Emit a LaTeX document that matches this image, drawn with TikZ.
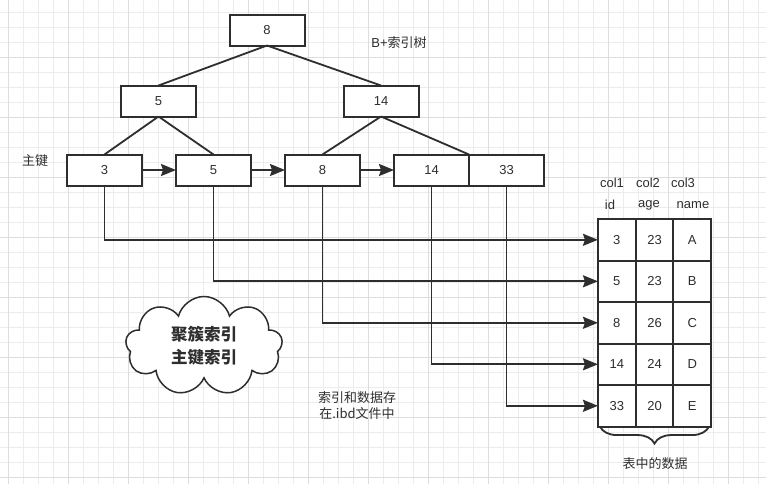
\documentclass[tikz,border=0pt]{standalone}
\usepackage{fontspec}
\setmainfont{Liberation Sans}
\newfontfamily\cjk{Noto Sans CJK SC}
\usetikzlibrary{shapes.symbols, arrows.meta, positioning, decorations.pathreplacing}
\definecolor{inkgray}{HTML}{2E2E2E}
\definecolor{gridminor}{HTML}{ECECEC}
\definecolor{gridmajor}{HTML}{DDDDDD}
\tikzset{
    keybox/.style={rectangle, draw=inkgray, fill=white, line width=2pt, minimum width=75pt, minimum height=31pt, inner sep=0pt, outer sep=0pt, text=inkgray, font=\fontsize{13}{15}\selectfont},
    cell/.style={rectangle, draw=inkgray, fill=white, line width=2pt, minimum width=37.7pt, minimum height=41.5pt, inner sep=0pt, outer sep=0pt, text=inkgray, font=\fontsize{13}{15}\selectfont},
    plaintext/.style={inner sep=1pt, text=inkgray, font=\fontsize{13}{16}\selectfont, align=center},
    bubble/.style={cloud, cloud puffs=9, aspect=1.6, draw=inkgray, fill=white, line width=1.5pt, minimum width=157pt, minimum height=99pt, text=inkgray, font=\fontsize{16.5}{23}\selectfont\cjk\bfseries, align=center},
    arrow/.style={-{Stealth[length=15pt, width=12pt, inset=2pt]}, draw=inkgray, line width=1.8pt},
    link/.style={draw=inkgray, line width=1.8pt},
}

\begin{document}
\begin{tikzpicture}[x=1pt, y=-1pt]
        % Canvas and grid
        \useasboundingbox (0,0) rectangle (766,483);
        \fill[white] (0,0) rectangle (766,483);
        \begin{scope}
            \clip (0,0) rectangle (766,483);
            \draw[gridminor, line width=0.9pt, step=15pt, shift={(8.3,12.3)}] (-30,500) grid (780,-30);
            \draw[gridmajor, line width=0.9pt, step=60pt, shift={(8.3,-2.7)}] (-60,540) grid (800,-60);
        \end{scope}

        % Tree nodes
        \node[keybox] (root) at (267,30) {8};
        \node[keybox] (inner5) at (158.5,101) {5};
        \node[keybox] (inner14) at (381,101) {14};

        \node[keybox] (leaf3) at (104.5,170) {3};
        \node[keybox, right=34pt of leaf3] (leaf5) {5};
        \node[keybox, right=34pt of leaf5] (leaf8) {8};
        \node[keybox, right=34pt of leaf8] (leaf14) {14};
        \node[keybox, right=0pt of leaf14] (leaf33) {33};

        \node[plaintext] (treeName) at (399,43) {B+{\cjk 索引树}};
        \node[plaintext] (pkName) at (35,161) {\cjk 主键};

        % Table
        \node[plaintext] (col1) at (612,183) {col1};
        \node[plaintext] (col2) at (648,183) {col2};
        \node[plaintext] (col3) at (683,183) {col3};
        \node[plaintext] (idHead) at (610,205) {id};
        \node[plaintext] (ageHead) at (649,205) {age};
        \node[plaintext] (nameHead) at (693,205) {name};

        \node[cell] (idA) at (616.8,239.8) {3};
        \node[cell, right=0pt of idA] (ageA) {23};
        \node[cell, right=0pt of ageA] (nameA) {A};
        \node[cell, below=0pt of idA] (idB) {5};
        \node[cell, right=0pt of idB] (ageB) {23};
        \node[cell, right=0pt of ageB] (nameB) {B};
        \node[cell, below=0pt of idB] (idC) {8};
        \node[cell, right=0pt of idC] (ageC) {26};
        \node[cell, right=0pt of ageC] (nameC) {C};
        \node[cell, below=0pt of idC] (idD) {14};
        \node[cell, right=0pt of idD] (ageD) {24};
        \node[cell, right=0pt of ageD] (nameD) {D};
        \node[cell, below=0pt of idD] (idE) {33};
        \node[cell, right=0pt of idE] (ageE) {20};
        \node[cell, right=0pt of ageE] (nameE) {E};

        \node[plaintext] (tableName) at (655,464) {\cjk 表中的数据};

        % Notes
        \node[bubble] (clusterNote) at (204,346) {聚簇索引\\主键索引};
        \node[plaintext] (fileNote) at (357,406) {\cjk 索引和数据存\\\cjk 在.ibd文件中};

        % Connections
        \draw[link] (root.south) -- (inner5.north);
        \draw[link] (root.south) -- (inner14.north);
        \draw[link] (inner5.south) -- (leaf3.north);
        \draw[link] (inner5.south) -- (leaf5.north);
        \draw[link] (inner14.south) -- (leaf8.north);
        \draw[link] (inner14.south) -- (leaf14.north east);

        \draw[arrow] (leaf3) -- (leaf5);
        \draw[arrow] (leaf5) -- (leaf8);
        \draw[arrow] (leaf8) -- (leaf14);

        \draw[arrow] (leaf3) |- (idA);
        \draw[arrow] (leaf5) |- (idB);
        \draw[arrow] (leaf8) |- (idC);
        \draw[arrow] (leaf14) |- (idD);
        \draw[arrow] (leaf33) |- (idE);

        \draw[link, decorate, decoration={brace, mirror, amplitude=17pt}] ([xshift=2pt]idE.south west) -- ([xshift=-2pt]nameE.south east);
    \end{tikzpicture}
\end{document}
